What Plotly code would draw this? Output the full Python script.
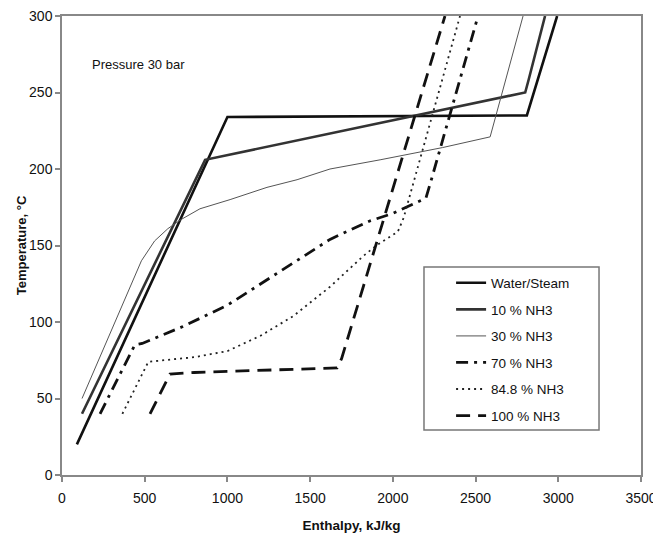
import plotly.graph_objects as go

# ---- data (Enthalpy kJ/kg vs Temperature °C, 30 bar) ----
water_x = [90, 1000, 2810, 2993]
water_y = [20, 234, 235, 300]

nh3_10_x = [121, 865, 2800, 2820, 2920]
nh3_10_y = [40, 206, 250, 258, 300]

nh3_30_x = [121, 480, 560, 640, 720, 834, 1016, 1239, 1421, 1620, 1923, 2300, 2588, 2787]
nh3_30_y = [50, 140, 153, 161, 167, 174, 180, 188, 193, 200, 206, 214, 221, 300]

nh3_70_x = [230, 440, 485, 730, 1000, 1420, 1620, 1860, 2000, 2120, 2200, 2230, 2515]
nh3_70_y = [40, 85, 86, 97, 111, 140, 154, 166, 171, 177, 181, 192, 300]

nh3_848_x = [365, 522, 800, 1000, 1200, 1400, 1620, 1820, 1900, 2030, 2065, 2406]
nh3_848_y = [40, 74, 77, 81, 91, 104, 123, 143, 150, 159, 168, 300]

nh3_100_x = [532, 653, 800, 1663, 1690, 2315]
nh3_100_y = [40, 66, 67, 70, 76, 300]

x_ticks = [0, 500, 1000, 1500, 2000, 2500, 3000, 3500]
y_ticks = [0, 50, 100, 150, 200, 250, 300]

FONT = "Liberation Sans, Arial, sans-serif"

series = [
    ("Water/Steam", water_x, water_y, dict(color="#111111", width=2.6, dash="solid")),
    ("10 % NH3", nh3_10_x, nh3_10_y, dict(color="#333333", width=2.6, dash="solid")),
    ("30 % NH3", nh3_30_x, nh3_30_y, dict(color="#555555", width=1.0, dash="solid")),
    ("70 % NH3", nh3_70_x, nh3_70_y, dict(color="#111111", width=2.8, dash="12px,6px,3px,6px")),
    ("84.8 % NH3", nh3_848_x, nh3_848_y, dict(color="#222222", width=1.8, dash="2px,4px")),
    ("100 % NH3", nh3_100_x, nh3_100_y, dict(color="#111111", width=2.8, dash="14px,8px")),
]

fig = go.Figure()
for i, (name, xs, ys, ln) in enumerate(series):
    fig.add_trace(go.Scatter(x=xs, y=ys, mode="lines", name=name, line=ln,
                             legendgroup=str(i)))

axis_common = dict(showline=True, linecolor="#888888", linewidth=1.5, mirror=True,
                   ticks="outside", ticklen=5, tickcolor="#888888", tickwidth=1.5,
                   showgrid=False, zeroline=False, ticklabeloverflow="allow",
                   tickfont=dict(family=FONT, size=14, color="#111111"))

fig.update_layout(
    width=653, height=537,
    margin=dict(l=62, r=12, t=16, b=62, autoexpand=False),
    paper_bgcolor="white", plot_bgcolor="white",
    font=dict(family=FONT, color="#111111"),
    xaxis=dict(range=[0, 3500], tickvals=x_ticks, ticklabelstandoff=4,
               title=dict(text="<b>Enthalpy, kJ/kg</b>", standoff=16,
                          font=dict(family=FONT, size=13.5)),
               **axis_common),
    yaxis=dict(range=[0, 300], tickvals=y_ticks,
               title=dict(text="<b>Temperature, °C</b>", standoff=0,
                          font=dict(family=FONT, size=13)),
               **axis_common),
    showlegend=True,
    legend=dict(x=0.672, y=0.452, xanchor="left", yanchor="top",
                bgcolor="rgba(0,0,0,0)", borderwidth=0,
                traceorder="grouped", tracegroupgap=6,
                font=dict(family=FONT, size=13.5, color="#111111")),
    shapes=[dict(type="rect", xref="paper", yref="paper",
                 x0=0.6252, x1=0.9275, y0=0.098, y1=0.453,
                 line=dict(color="#777777", width=1.5), fillcolor="rgba(0,0,0,0)")],
    annotations=[dict(text="Pressure 30 bar", x=170, y=268, xref="x", yref="y",
                      xanchor="left", yanchor="middle", showarrow=False,
                      font=dict(family=FONT, size=13, color="#111111"))],
)

fig.write_html("out.html", config={"displayModeBar": False},
               post_script="document.body.style.margin='0';")
